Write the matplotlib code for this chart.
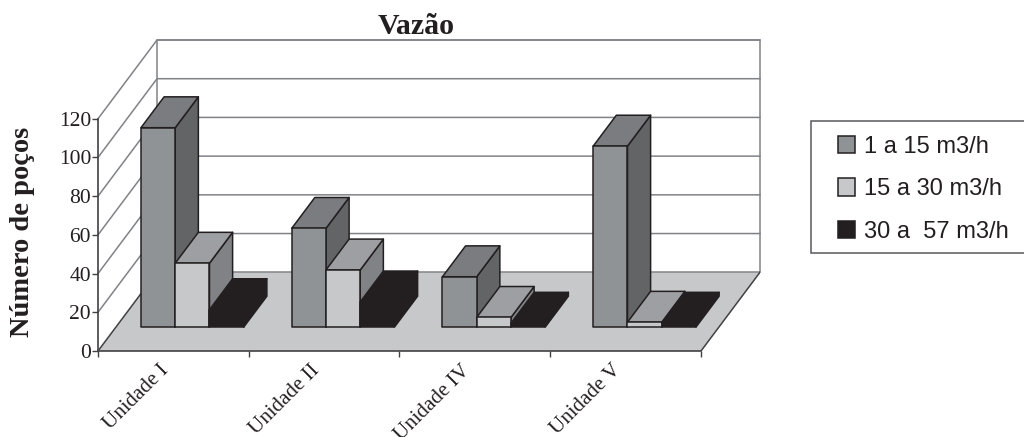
import matplotlib
matplotlib.use('Agg')
import matplotlib.pyplot as plt
from matplotlib.patches import Patch, Polygon, Rectangle

W, H = 1024, 437

categories = ['Unidade I', 'Unidade II', 'Unidade IV', 'Unidade V']
series_names = ['1 a 15 m3/h', '15 a 30 m3/h', '30 a  57 m3/h']
vazao_baixa = [103, 51, 26, 93.5]
vazao_media = [33, 29.5, 5, 2.5]
vazao_alta = [9, 13, 2, 2]
y_ticks = [0, 20, 40, 60, 80, 100, 120]

# front, top, side colours of each series
colors = [('#909396', '#7b7c7f', '#636466'),
          ('#c7c8ca', '#9d9fa2', '#808285'),
          ('#231f20', '#231f20', '#231f20')]
EDGE = '#231f20'
GRID = '#808285'
FLOOR = '#c7c8ca'

# oblique projection: one unit of depth moves this far along x and y
DEPTH_X = 59 / 150.75
DEPTH_Y = 79 / 1.9417
BAR_W = 1 / 4.4
BAR_START = 0.166  # where a cluster starts inside its category
BAR_D0 = 0.304
BAR_D = 0.392


def proj(x, y, d):
    return (x + d * DEPTH_X, y + d * DEPTH_Y)


def draw_bar(ax, x, value, cols):
    d0, d1 = BAR_D0, BAR_D0 + BAR_D
    x1 = x + BAR_W
    front = [proj(x, 0, d0), proj(x1, 0, d0), proj(x1, value, d0), proj(x, value, d0)]
    top = [proj(x, value, d0), proj(x1, value, d0), proj(x1, value, d1), proj(x, value, d1)]
    side = [proj(x1, 0, d0), proj(x1, 0, d1), proj(x1, value, d1), proj(x1, value, d0)]
    for pts, col in zip((side, top, front), (cols[2], cols[1], cols[0])):
        ax.add_patch(Polygon(pts, closed=True, facecolor=col, edgecolor=EDGE,
                             linewidth=1.1, joinstyle='round', zorder=1, clip_on=False))


fig = plt.figure(figsize=(W / 100, H / 100), dpi=100)
plt.rcParams['font.family'] = 'Liberation Serif'
ax = fig.add_axes([98 / W, (H - 351) / H, (760 - 98) / W, (351 - 40) / H])
n = len(categories)
ax.set_xlim(0, n + DEPTH_X)
ax.set_ylim(0, 120 + DEPTH_Y)
ax.patch.set_visible(False)

# walls and grid
for t in y_ticks[1:]:
    xs, ys = zip(proj(0, t, 0), proj(0, t, 1), proj(n, t, 1))
    ax.plot(xs, ys, color=GRID, lw=1.1, zorder=1, clip_on=False)
xs, ys = zip(proj(0, 0, 1), proj(0, 120, 1), proj(n, 120, 1), proj(n, 0, 1))
ax.plot(xs, ys, color=GRID, lw=1.1, zorder=1, clip_on=False)

# floor
floor = [proj(0, 0, 0), proj(n, 0, 0), proj(n, 0, 1), proj(0, 0, 1)]
ax.add_patch(Polygon(floor, closed=True, facecolor=FLOOR, edgecolor='none', zorder=1))
xs, ys = zip(proj(0, 0, 1), proj(n, 0, 1))
ax.plot(xs, ys, color=GRID, lw=1.1, zorder=1, clip_on=False)
xs, ys = zip(proj(0, 0, 0), proj(0, 0, 1))
ax.plot(xs, ys, color='#414042', lw=1.1, zorder=1)
xs, ys = zip(proj(n, 0, 0), proj(n, 0, 1))
ax.plot(xs, ys, color='#414042', lw=1.1, zorder=1)

# bars, left to right so nearer faces cover the sides
for i in range(n):
    values = [vazao_baixa[i], vazao_media[i], vazao_alta[i]]
    for j, v in enumerate(values):
        draw_bar(ax, i + BAR_START + j * BAR_W, v, colors[j])

# axes
for s in ('top', 'right'):
    ax.spines[s].set_visible(False)
ax.spines['left'].set_bounds(0, 120)
ax.spines['bottom'].set_bounds(0, n)
for s in ('left', 'bottom'):
    ax.spines[s].set_color('#414042')
    ax.spines[s].set_linewidth(1.2)
    ax.spines[s].set_zorder(3)
ax.set_yticks(y_ticks)
ax.set_xticks(range(n + 1), [''] * (n + 1))
ax.tick_params(axis='both', which='major', length=4, width=1, color='#414042',
               labelsize=15.5, labelcolor=EDGE, pad=1)
ax.set_xticks([i + 0.45 for i in range(n)], categories, minor=True, rotation=45,
              ha='right', va='center', rotation_mode='anchor')
ax.tick_params(axis='x', which='minor', length=0, pad=12, labelsize=15, labelcolor=EDGE)

fig.text(416 / W, 1 - 26 / H, 'Vazão', ha='center', va='center',
         fontsize=21.5, fontweight='bold', color=EDGE)
fig.text(22.5 / W, 1 - 232 / H, 'Número de poços', rotation=90, ha='center', va='center',
         fontsize=20.5, fontweight='bold', color=EDGE)

# legend box runs off the right side
fig.add_artist(Rectangle((811 / W, 1 - 252.5 / H), 300 / W, 132 / H, transform=fig.transFigure,
                         facecolor='white', edgecolor='#58595b', linewidth=1.1))
handles = [Patch(facecolor=c[0], edgecolor=EDGE, linewidth=1.1) for c in colors]
fig.legend(handles, series_names, loc='upper left', bbox_to_anchor=(838 / W, 1 - 136 / H),
           frameon=False, borderpad=0, borderaxespad=0, handlelength=0.7, handleheight=0.75,
           handletextpad=0.4, labelspacing=0.86,
           prop={'family': 'Liberation Sans', 'size': 17}, labelcolor=EDGE)

fig.savefig('out.png', dpi=100)
